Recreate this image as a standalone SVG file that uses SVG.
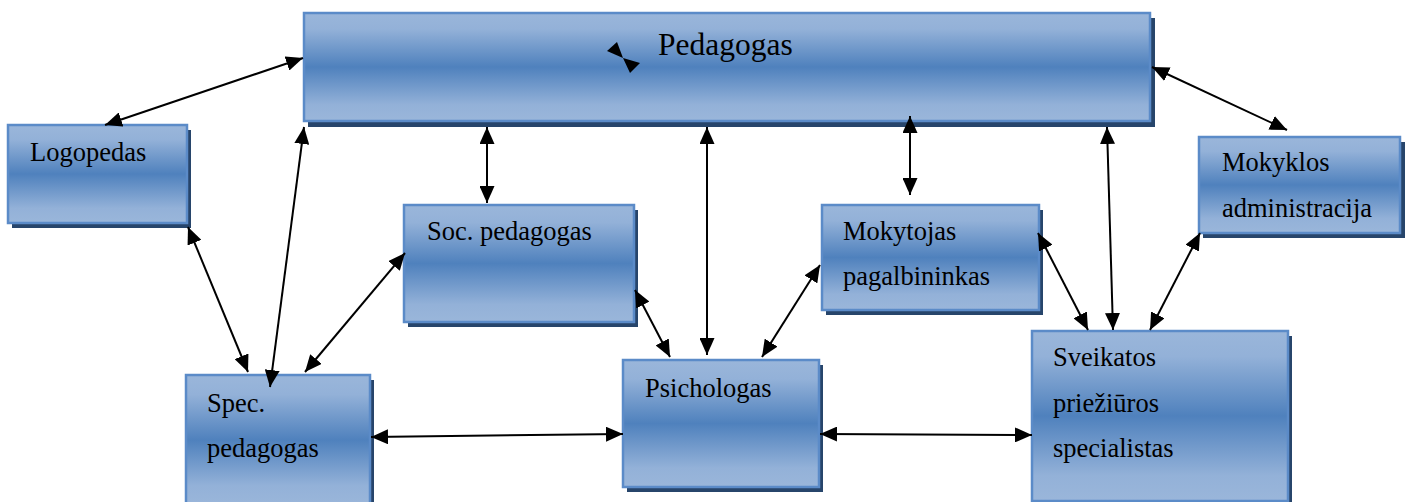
<svg xmlns="http://www.w3.org/2000/svg" width="1405" height="502" viewBox="0 0 1405 502">
<defs>
<linearGradient id="g" x1="0" y1="0" x2="0" y2="1">
<stop offset="0" stop-color="#9ab6da"/>
<stop offset="0.15" stop-color="#93b1d8"/>
<stop offset="0.5" stop-color="#4f81bd"/>
<stop offset="0.85" stop-color="#93b1d8"/>
<stop offset="1" stop-color="#9ab6da"/>
</linearGradient>
<marker id="ah" markerUnits="userSpaceOnUse" markerWidth="17" markerHeight="15" viewBox="0 0 17 15" refX="17" refY="7.5" orient="auto-start-reverse">
<path d="M0,0 L17,7.5 L0,15 z" fill="#000"/>
</marker>
<style>
.sh{fill:#27456b}
.bx{fill:url(#g);stroke:#5b8bc8;stroke-width:2.5}
text{font-family:'Liberation Serif','Times New Roman',serif;fill:#000}
.t{font-size:26.5px}
.tb{font-size:31.5px}
.c{stroke:#000;stroke-width:2;fill:none;marker-start:url(#ah);marker-end:url(#ah)}
</style>
</defs>
<rect width="1405" height="502" fill="#fff"/>

<g id="pedagogas">
<rect class="sh" x="308" y="18" width="847" height="109"/>
<rect class="bx" x="304" y="13" width="846" height="108"/>
<text class="tb" x="658" y="55">Pedagogas</text>
</g>

<g id="logopedas">
<rect class="sh" x="12" y="130" width="179" height="98"/>
<rect class="bx" x="8" y="125" width="179" height="98"/>
<text class="t" x="30" y="161">Logopedas</text>
</g>

<g id="soc-pedagogas">
<rect class="sh" x="408" y="210" width="230" height="117"/>
<rect class="bx" x="404" y="205" width="230" height="117"/>
<text class="t" x="427" y="240">Soc. pedagogas</text>
</g>

<g id="mokytojas">
<rect class="sh" x="826" y="210" width="217" height="105"/>
<rect class="bx" x="822" y="205" width="217" height="105"/>
<text class="t" x="843" y="240">Mokytojas</text>
<text class="t" x="843" y="285">pagalbininkas</text>
</g>

<g id="mokyklos-administracija">
<rect class="sh" x="1203" y="142" width="205" height="96"/>
<rect class="bx" x="1199" y="137" width="201" height="96"/>
<text class="t" x="1222" y="171">Mokyklos</text>
<text class="t" x="1222" y="217">administracija</text>
</g>

<g id="spec-pedagogas">
<rect class="sh" x="190" y="380" width="184" height="130"/>
<rect class="bx" x="186" y="375" width="184" height="130"/>
<text class="t" x="207" y="412">Spec.</text>
<text class="t" x="207" y="457">pedagogas</text>
</g>

<g id="psichologas">
<rect class="sh" x="627" y="365" width="196" height="127"/>
<rect class="bx" x="623" y="360" width="196" height="127"/>
<text class="t" x="645" y="397">Psichologas</text>
</g>

<g id="sveikatos">
<rect class="sh" x="1036" y="336" width="256" height="170"/>
<rect class="bx" x="1032" y="331" width="256" height="170"/>
<text class="t" x="1053" y="366">Sveikatos</text>
<text class="t" x="1053" y="412">priežiūros</text>
<text class="t" x="1053" y="457">specialistas</text>
</g>

<g id="connectors">
<path class="c" d="M303,58 L105,125"/>
<path class="c" d="M304,127 L270,387"/>
<path class="c" d="M188,227 L248,372"/>
<path class="c" d="M405,253 L305,372"/>
<path class="c" d="M487,127 L487,203"/>
<path class="c" d="M707,127 L707,355"/>
<path class="c" d="M910,116 L910,195"/>
<path class="c" d="M1107,127 L1113,330"/>
<path class="c" d="M1152,67 L1287,130"/>
<path class="c" d="M1038,233 L1088,330"/>
<path class="c" d="M1200,233 L1150,330"/>
<path class="c" d="M635,290 L670,357"/>
<path class="c" d="M820,265 L762,357"/>
<path class="c" d="M371,437 L623,434"/>
<path class="c" d="M820,434 L1032,435"/>
<polygon points="607,51 617,42 623,58" fill="#000"/>
<polygon points="623,58 640,63 630,73" fill="#000"/>
</g>
</svg>
